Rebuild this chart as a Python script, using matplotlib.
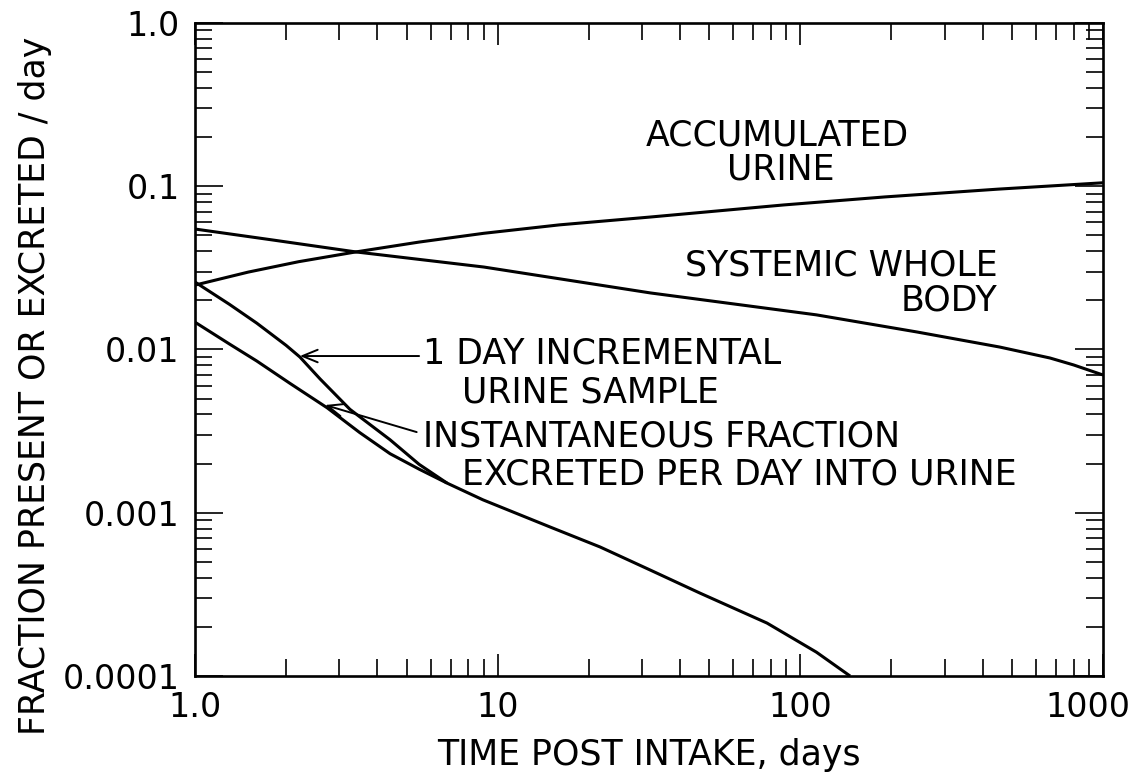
import numpy as np
import matplotlib
matplotlib.use("Agg")
import matplotlib.pyplot as plt
import matplotlib.transforms as mtransforms
from matplotlib.ticker import FixedLocator, NullFormatter

plt.rcParams['font.family'] = ['DejaVu Sans']

# values (days, fraction)
acc_days = [1, 1.5, 2.2, 3.4, 5.5, 9, 16, 32, 88, 190, 450, 1000]
acc_frac = [0.0248, 0.0298, 0.0345, 0.0396, 0.0455, 0.0515, 0.058, 0.0648, 0.0768, 0.086, 0.096, 0.105]

body_days = [1, 1.8, 3.4, 9, 32, 113, 243, 456, 668, 800, 1000]
body_frac = [0.0547, 0.0469, 0.0396, 0.032, 0.0222, 0.0163, 0.0128, 0.01035, 0.00887, 0.00804, 0.00698]

incr_days = [1, 1.3, 1.6, 2.0, 2.22, 2.59, 3.25, 4.41, 5.5, 6.8]
incr_frac = [0.0259, 0.0189, 0.0145, 0.0106, 0.009, 0.0066, 0.0043, 0.0028, 0.00198, 0.00152]

inst_days = [1, 1.3, 1.6, 2.06, 2.73, 3.5, 4.41, 5.5, 6.8, 8.94, 14.9, 21.8, 31.9, 46.6, 77.6, 113, 146]
inst_frac = [0.0147, 0.0108, 0.0085, 0.0062, 0.0044, 0.0031, 0.0023, 0.00185, 0.00152, 0.0012,
             0.000818, 0.000617, 0.000446, 0.000322, 0.000211, 0.00014, 0.0001]

xticks = [1, 10, 100, 1000]
xtick_labels = ['1.0', '10', '100', '1000']
yticks = [0.0001, 0.001, 0.01, 0.1, 1.0]
ytick_labels = ['0.0001', '0.001', '0.01', '0.1', '1.0']

fs = 25
tfs = 24

fig = plt.figure(figsize=(11.39, 7.74), dpi=100)
ax = fig.add_axes([0.1712, 0.1266, 0.7972, 0.8437])

for d, f in [(acc_days, acc_frac), (body_days, body_frac), (incr_days, incr_frac), (inst_days, inst_frac)]:
    ax.plot(d, f, color='black', lw=2.2, solid_capstyle='butt', solid_joinstyle='round')

ax.set_xscale('log')
ax.set_yscale('log')
ax.set_xlim(1, 1000)
ax.set_ylim(0.0001, 1.0)

ax.xaxis.set_major_locator(FixedLocator(xticks))
ax.set_xticklabels(xtick_labels)
ax.yaxis.set_major_locator(FixedLocator(yticks))
ax.set_yticklabels(ytick_labels)
ax.xaxis.set_minor_formatter(NullFormatter())
ax.yaxis.set_minor_formatter(NullFormatter())

ax.tick_params(which='both', direction='in', top=True, right=True, width=1.2, labelsize=tfs, pad=11)
ax.tick_params(which='major', length=16)
ax.tick_params(which='minor', length=12.5)
ax.yaxis.set_tick_params(which='major', length=20)
for s in ax.spines.values():
    s.set_linewidth(1.9)

# last x label sits a bit left of the frame edge, as in the original
shift = mtransforms.ScaledTranslation(-0.15, 0, fig.dpi_scale_trans)
lab = ax.get_xticklabels()[-1]
lab.set_transform(lab.get_transform() + shift)

ax.set_xlabel('TIME POST INTAKE, days', fontsize=fs, labelpad=10)
ax.set_ylabel('FRACTION PRESENT OR EXCRETED / day', fontsize=fs)
ax.yaxis.set_label_coords(-0.158, 0.444)

# curve labels
ax.text(0.641, 0.827, 'ACCUMULATED', transform=ax.transAxes, fontsize=fs, ha='center', va='center')
ax.text(0.645, 0.775, 'URINE', transform=ax.transAxes, fontsize=fs, ha='center', va='center')
ax.text(0.884, 0.629, 'SYSTEMIC WHOLE', transform=ax.transAxes, fontsize=fs, ha='right', va='center')
ax.text(0.884, 0.5758, 'BODY', transform=ax.transAxes, fontsize=fs, ha='right', va='center')
ax.text(0.251, 0.4946, '1 DAY INCREMENTAL', transform=ax.transAxes, fontsize=fs, ha='left', va='center')
ax.text(0.294, 0.4349, 'URINE SAMPLE', transform=ax.transAxes, fontsize=fs, ha='left', va='center')
ax.text(0.251, 0.3675, 'INSTANTANEOUS FRACTION', transform=ax.transAxes, fontsize=fs, ha='left', va='center')
ax.text(0.294, 0.3093, 'EXCRETED PER DAY INTO URINE', transform=ax.transAxes, fontsize=fs, ha='left', va='center')

arrow = dict(arrowstyle='->,head_length=1.1,head_width=0.45', lw=1.4, color='black',
             shrinkA=0, shrinkB=0)
ax.annotate('', xy=(2.22, 0.00912), xytext=(5.5, 0.00912), arrowprops=arrow)
ax.annotate('', xy=(2.69, 0.00457), xytext=(5.4, 0.00312), arrowprops=arrow)

fig.savefig('out.png', dpi=100)
